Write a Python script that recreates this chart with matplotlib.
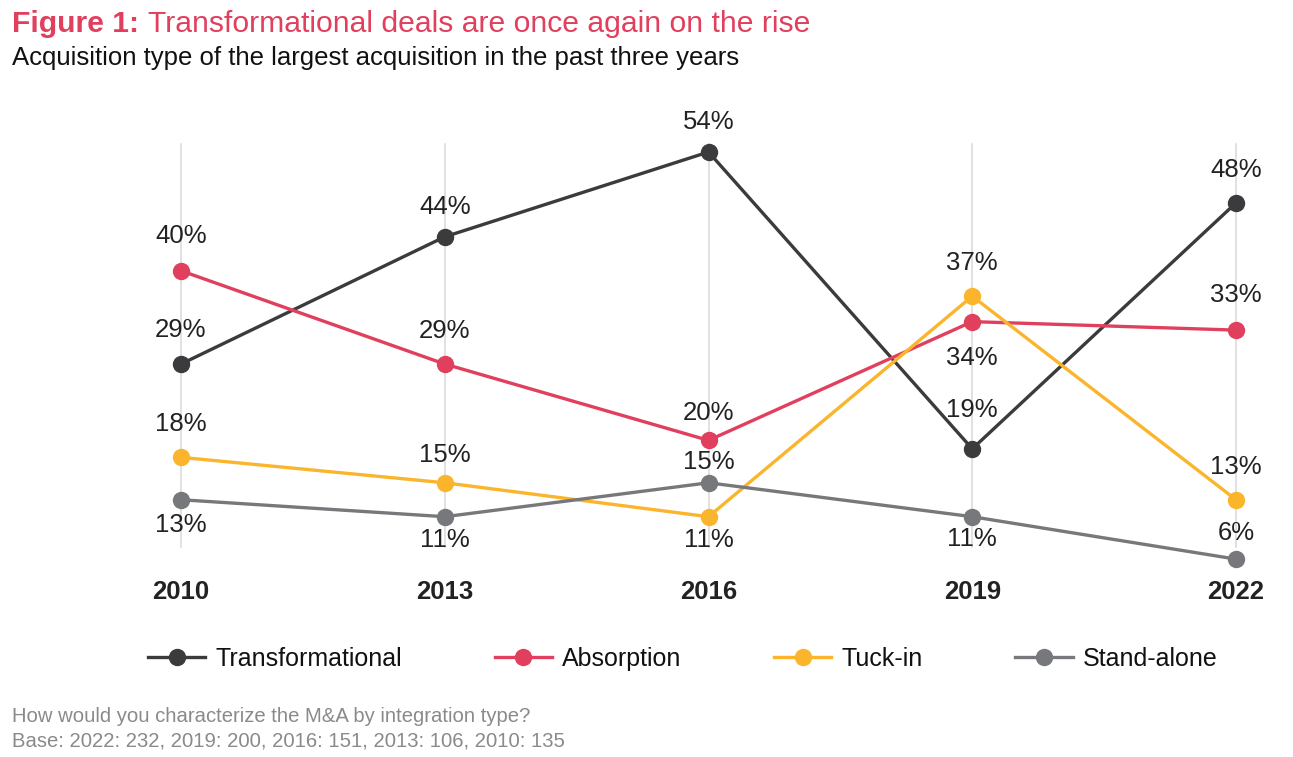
import numpy as np
from matplotlib import pyplot as plt

plt.rcParams['font.family'] = ['Liberation Sans', 'DejaVu Sans']

# data
years = ["2010", "2013", "2016", "2019", "2022"]
transformational = [29, 44, 54, 19, 48]
absorption = [40, 29, 20, 34, 33]
tuck_in = [18, 15, 11, 37, 13]
stand_alone = [13, 11, 15, 11, 6]

names = ["Transformational", "Absorption", "Tuck-in", "Stand-alone"]
colors = ["#3b3b3d", "#e0405e", "#fbb52c", "#77787b"]
# label offset from the point, in pixels (positive = above)
label_dy = [
    [34, 30, 30, 39, 33],
    [35, 33, 27, -36, 35],
    [33, 28, -23, 33, 33],
    [-25, -23, 21, -22, 26],
]

W, H = 1293, 757
fig = plt.figure(figsize=(W / 100, H / 100), dpi=100)
# axes placed so x=0..4 spans the columns and y=0..54 spans the plot
ax = fig.add_axes([181 / W, (H - 610) / H, (1236 - 181) / W, (610 - 152) / H])
ax.set_xlim(0, 4)
ax.set_ylim(0, 54)
ax.axis("off")

x = np.arange(len(years))
for xi in x:
    ax.plot([xi, xi], [7.4, 54.95], color="#dcdcdc", lw=1.2, zorder=0, clip_on=False)

series = [transformational, absorption, tuck_in, stand_alone]
for vals, name, c, dys in zip(series, names, colors, label_dy):
    ax.plot(x, vals, color=c, lw=2.4, marker="o", ms=11.5, label=name,
            clip_on=False, zorder=3)
    for xi, v, dy in zip(x, vals, dys):
        ax.annotate(f"{v}%", (xi, v), xytext=(0, dy), textcoords="offset pixels",
                    ha="center", va="center", fontsize=18.5, color="#222222",
                    zorder=4)

for xi, yr in zip(x, years):
    ax.text(xi, 2.1, yr, ha="center", va="center", fontsize=18.5,
            fontweight="bold", color="#222222")

leg = fig.legend(loc="center", bbox_to_anchor=(0.528, (H - 659) / H), ncol=4,
                 frameon=False, fontsize=18, handlelength=2.3,
                 columnspacing=3.7, handletextpad=0.4)
for t in leg.get_texts():
    t.set_color("#111111")

fig.text(12 / W, 1 - 24 / H, "Figure 1:", fontsize=21.7, fontweight="bold",
         color="#e0405e", va="center", ha="left")
fig.text(148 / W, 1 - 24 / H, "Transformational deals are once again on the rise",
         fontsize=21.7, color="#e0405e", va="center", ha="left")
fig.text(12 / W, 1 - 58 / H, "Acquisition type of the largest acquisition in the past three years",
         fontsize=18.5, color="#111111", va="center", ha="left")
fig.text(12 / W, 1 - 717 / H, "How would you characterize the M&A by integration type?",
         fontsize=14.6, color="#8a8a8a", va="center", ha="left")
fig.text(12 / W, 1 - 741 / H, "Base: 2022: 232, 2019: 200, 2016: 151, 2013: 106, 2010: 135",
         fontsize=14.6, color="#8a8a8a", va="center", ha="left")

fig.savefig("out.png", dpi=100)
